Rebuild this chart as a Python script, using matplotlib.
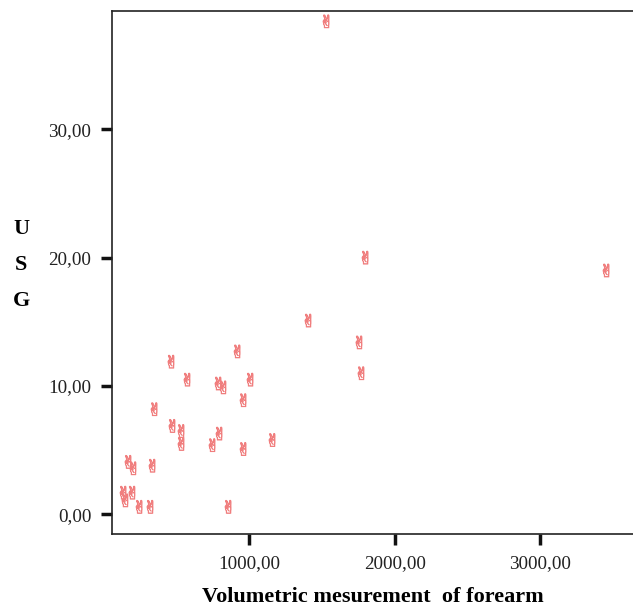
import matplotlib
matplotlib.use("Agg")
import matplotlib.pyplot as plt
from matplotlib.ticker import FuncFormatter

# Data
volume = [1529, 1797, 3452, 1405, 1755, 1769, 918, 464, 574, 787, 821, 1007, 959,
          348, 471, 533, 794, 533, 746, 1158, 959, 169, 203, 334, 135, 148, 196,
          245, 320, 856]
usg = [38.4, 20.0, 19.0, 15.1, 13.4, 11.0, 12.7, 11.9, 10.5, 10.2, 9.9, 10.5, 8.9,
       8.2, 6.9, 6.5, 6.3, 5.5, 5.4, 5.8, 5.1, 4.1, 3.6, 3.8, 1.7, 1.1, 1.7,
       0.6, 0.6, 0.6]
x_ticks = [1000, 2000, 3000]
y_ticks = [0, 10, 20, 30]
x_label = "Volumetric mesurement  of forearm"
y_label = "U\nS\nG"

W, H = 633, 608
fig = plt.figure(figsize=(W / 100, H / 100), dpi=100)
left, right, top, bottom = 112, 633, 11, 534
ax = fig.add_axes([left / W, (H - bottom) / H, (right - left) / W, (bottom - top) / H])

ax.scatter(volume, usg, marker="$\u270c$", s=90, facecolors="none",
           edgecolors="#f07e7e", linewidths=0.5, zorder=3)

ax.set_xlim(59, 3637)
ax.set_ylim(-1.52, 39.2)
ax.set_xticks(x_ticks)
ax.set_yticks(y_ticks)
fmt = FuncFormatter(lambda v, p: f"{v:.2f}".replace(".", ","))
ax.xaxis.set_major_formatter(fmt)
ax.yaxis.set_major_formatter(fmt)

serif = ["Liberation Serif", "DejaVu Serif"]
for lab in ax.get_xticklabels() + ax.get_yticklabels():
    lab.set_fontfamily(serif)
    lab.set_fontsize(13.8)
    lab.set_color("#222222")

ax.tick_params(axis="both", direction="out", length=8, width=2.5, color="#111111")
ax.tick_params(axis="x", pad=7)
ax.tick_params(axis="y", pad=7)

ax.spines["right"].set_visible(False)
for s in ["left", "bottom", "top"]:
    ax.spines[s].set_linewidth(1.2)
    ax.spines[s].set_color("#222222")

ax.set_xlabel(x_label, fontfamily=serif, fontsize=16, fontweight="bold", labelpad=11)
fig.text(21 / W, 1 - 265 / H, y_label, fontfamily=serif, fontsize=16,
         fontweight="bold", ha="center", va="center", linespacing=2.05)

fig.savefig("out.png", dpi=100)
